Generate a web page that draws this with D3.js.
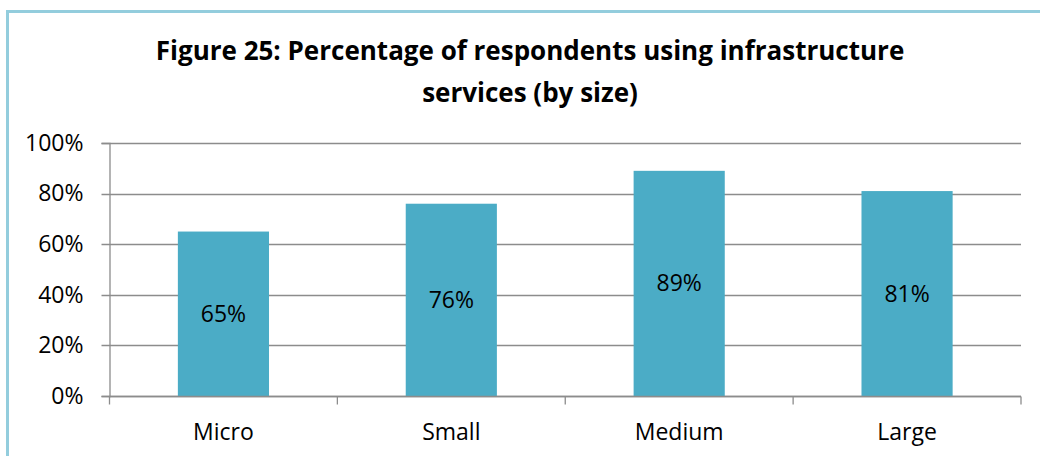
<!DOCTYPE html>
<html>
<head>
    <script src="https://cdnjs.cloudflare.com/ajax/libs/d3/7.8.5/d3.min.js"></script>
    <style>
        body { margin: 0; background: #fff; }
        text { font-family: "Open Sans", "Noto Sans", sans-serif; fill: #000; }
        .title { font-weight: bold; font-size: 26px; }
        .tick text { font-size: 23px; }
        .grid line { stroke: #8c8c8c; stroke-width: 1.3px; }
        .label { font-size: 23px; }
    </style>
</head>
<body>
    <div id="chart"></div>
    <script>
        const width = 1040, height = 456;

        const categories = ["Micro", "Small", "Medium", "Large"];
        const values = [65, 76, 89, 81];
        const yTicks = [0, 20, 40, 60, 80, 100];
        const titleLines = ["Figure 25: Percentage of respondents using infrastructure", "services (by size)"];

        const svg = d3.select("#chart").append("svg")
            .attr("width", width).attr("height", height);

        // outer frame (only left and top visible in the crop)
        svg.append("rect")
            .attr("x", 7.5).attr("y", 11.5)
            .attr("width", width + 10).attr("height", height + 10)
            .attr("fill", "none")
            .attr("stroke", "#93cddd")
            .attr("stroke-width", 3);

        const margin = { left: 109.5, right: 1021, top: 143, bottom: 396 };

        const x = d3.scaleBand().domain(categories)
            .range([margin.left, margin.right])
            .paddingInner(0.6).paddingOuter(0.3);
        const y = d3.scaleLinear().domain([0, 100]).range([margin.bottom, margin.top]);

        // title
        svg.append("text")
            .attr("class", "title")
            .attr("x", 530).attr("y", 60)
            .attr("text-anchor", "middle")
            .selectAll("tspan")
            .data(titleLines)
            .enter().append("tspan")
            .attr("x", 530)
            .attr("dy", (d, i) => i === 0 ? 0 : 42)
            .text(d => d);

        // gridlines
        svg.append("g").attr("class", "grid")
            .selectAll("line")
            .data(yTicks)
            .enter().append("line")
            .attr("x1", margin.left - 8).attr("x2", margin.right)
            .attr("y1", d => Math.round(y(d)) + 0.5)
            .attr("y2", d => Math.round(y(d)) + 0.5);

        // y axis
        const yAxis = svg.append("g")
            .attr("transform", `translate(${margin.left},0)`)
            .call(d3.axisLeft(y).tickValues(yTicks).tickFormat(d => d + "%").tickSize(8).tickPadding(18));
        yAxis.select(".domain").attr("stroke", "#8c8c8c").attr("stroke-width", 1.3);
        yAxis.selectAll(".tick line").remove();

        // bars
        svg.append("g")
            .selectAll("rect")
            .data(values)
            .enter().append("rect")
            .attr("x", (d, i) => x(categories[i]))
            .attr("y", d => y(d))
            .attr("width", x.bandwidth())
            .attr("height", d => y(0) - y(d))
            .attr("fill", "#4bacc6");

        // value labels, centred inside bars
        svg.append("g")
            .selectAll("text")
            .data(values)
            .enter().append("text")
            .attr("class", "label")
            .attr("x", (d, i) => x(categories[i]) + x.bandwidth() / 2)
            .attr("y", d => (y(d) + y(0)) / 2)
            .attr("dy", "0.35em")
            .attr("text-anchor", "middle")
            .text(d => d + "%");

        // x axis
        const step = (margin.right - margin.left) / categories.length;
        const xAxis = svg.append("g").attr("transform", `translate(0,${Math.round(y(0)) + 0.5})`);
        xAxis.append("line")
            .attr("x1", margin.left).attr("x2", margin.right)
            .attr("stroke", "#8c8c8c").attr("stroke-width", 1.3);
        xAxis.selectAll(".xt")
            .data(d3.range(categories.length + 1))
            .enter().append("line")
            .attr("x1", i => margin.left + i * step)
            .attr("x2", i => margin.left + i * step)
            .attr("y1", 0).attr("y2", 8)
            .attr("stroke", "#8c8c8c").attr("stroke-width", 1.3);
        xAxis.selectAll(".xl")
            .data(categories)
            .enter().append("text")
            .attr("class", "label")
            .attr("x", d => x(d) + x.bandwidth() / 2)
            .attr("y", 43)
            .attr("text-anchor", "middle")
            .text(d => d);
    </script>
</body>
</html>
